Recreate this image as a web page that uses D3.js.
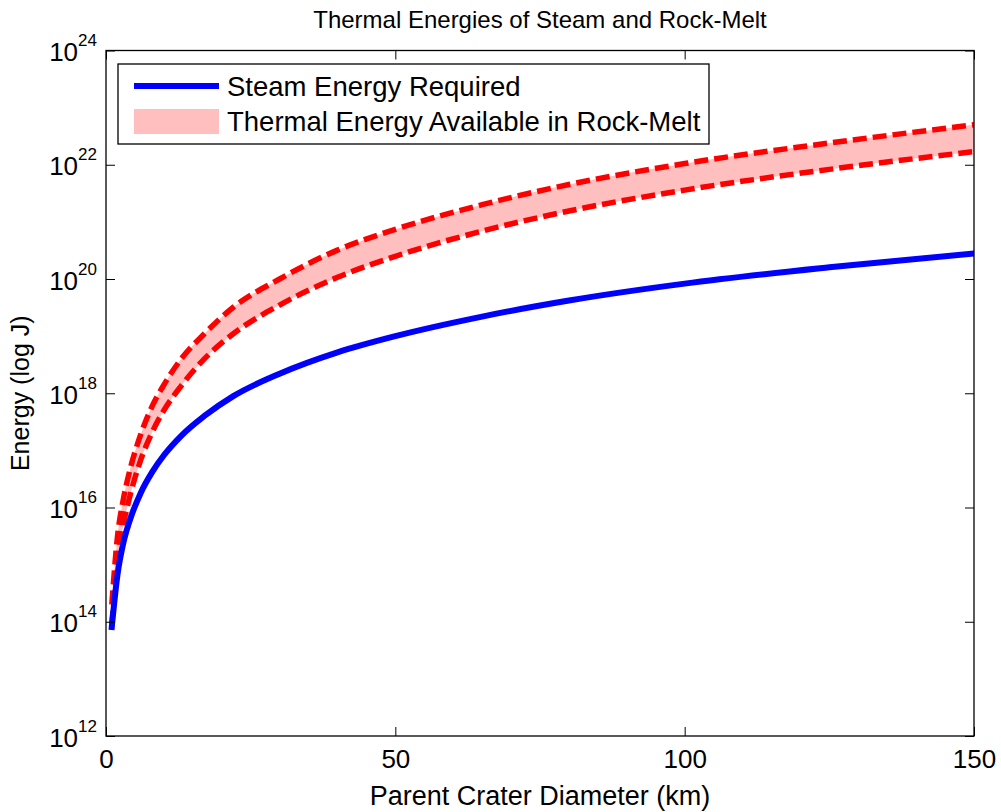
<!DOCTYPE html>
<html lang="en">
	<head>
		<meta charset="utf-8">
		<title>Thermal Energies of Steam and Rock-Melt</title>
		<script src="https://cdn.jsdelivr.net/npm/d3@7"></script>
		<style>
			body { margin: 0; background: #fff; }
			text { font-family: "Liberation Sans", Arial, sans-serif; fill: #000; }
		</style>
	</head>
	<body>
		<script>

		// crater diameter (km)
		var diameter = [1, 2, 3, 4, 6, 8, 10, 13, 17, 22, 30, 40, 50, 65, 80, 100, 125, 150];
		// steam energy required (J)
		var steam = [8.1e13, 6.8e14, 2.4e15, 5.5e15, 1.8e16, 4.2e16, 8.2e16, 1.8e17, 4.0e17, 8.9e17,
			2.2e18, 5.2e18, 1.0e19, 2.2e19, 4.2e19, 8.3e19, 1.6e20, 2.8e20];
		// rock-melt thermal energy, upper and lower bounds (J)
		var meltHigh = [2.0e14, 3.2e15, 1.4e16, 4.0e16, 1.9e17, 6.0e17, 1.4e18, 4.0e18, 1.1e19, 3.2e19,
			1.0e20, 3.2e20, 7.4e20, 2.0e21, 4.5e21, 1.05e22, 2.4e22, 5.0e22];
		var meltLow = [8.9e13, 1.1e15, 5.0e15, 1.4e16, 6.8e16, 2.1e17, 5.0e17, 1.35e18, 4.0e18, 1.1e19,
			3.5e19, 1.07e20, 2.5e20, 6.9e20, 1.55e21, 3.6e21, 8.3e21, 1.7e22];

		var xTicks = [0, 50, 100, 150];
		var yTicks = [1e12, 1e14, 1e16, 1e18, 1e20, 1e22, 1e24];
		var legendLabels = ["Steam Energy Required", "Thermal Energy Available in Rock-Melt"];

		var width = 1001, height = 812;
		var margin = {top: 50.5, right: 27, bottom: 76, left: 106};

		var svg = d3.select("body").append("svg")
			.attr("width", width)
			.attr("height", height);

		var x = d3.scaleLinear().domain([0, 150]).range([margin.left, width - margin.right]);
		var y = d3.scaleLog().domain([1e12, 1e24]).range([height - margin.bottom, margin.top]);

		var rows = diameter.map(function(d, i) {
			return {d: d, steam: steam[i], hi: meltHigh[i], lo: meltLow[i]};
		});

		svg.append("clipPath").attr("id", "plotclip")
			.append("rect")
			.attr("x", x(0)).attr("y", y(1e24))
			.attr("width", x(150) - x(0)).attr("height", y(1e12) - y(1e24));

		var plot = svg.append("g").attr("clip-path", "url(#plotclip)");

		// band between the two rock-melt bounds
		plot.append("path")
			.datum(rows)
			.attr("fill", "#ffbfbf")
			.attr("d", d3.area()
				.x(function(r) {return x(r.d);})
				.y0(function(r) {return y(r.lo);})
				.y1(function(r) {return y(r.hi);})
				.curve(d3.curveMonotoneX));

		var curveLine = function(key) {
			return d3.line()
				.x(function(r) {return x(r.d);})
				.y(function(r) {return y(r[key]);})
				.curve(d3.curveMonotoneX);
		};

		["hi", "lo"].forEach(function(k) {
			plot.append("path")
				.datum(rows)
				.attr("fill", "none")
				.attr("stroke", "#ff0000")
				.attr("stroke-width", 5.5)
				.attr("stroke-dasharray", "14,6")
				.attr("d", curveLine(k));
		});

		plot.append("path")
			.datum(rows)
			.attr("fill", "none")
			.attr("stroke", "#0000ff")
			.attr("stroke-width", 6)
			.attr("stroke-linecap", "square")
			.attr("d", curveLine("steam"));

		// axes: ticks inside, box all round
		var tickLen = 9;
		svg.append("g")
			.attr("transform", "translate(0," + y(1e12) + ")")
			.call(d3.axisBottom(x).tickValues(xTicks).tickSizeInner(-tickLen).tickSizeOuter(0).tickPadding(14))
			.call(function(g) {
				g.select(".domain").remove();
				g.selectAll("text").attr("font-size", 26).attr("dy", "0.71em");
			});

		svg.append("g")
			.attr("transform", "translate(0," + y(1e24) + ")")
			.call(d3.axisTop(x).tickValues(xTicks).tickSizeInner(-tickLen).tickSizeOuter(0).tickFormat(""))
			.call(function(g) {g.select(".domain").remove();});

		svg.append("g")
			.attr("transform", "translate(" + x(150) + ",0)")
			.call(d3.axisRight(y).tickValues(yTicks).tickSizeInner(-tickLen).tickSizeOuter(0).tickFormat(""))
			.call(function(g) {g.select(".domain").remove();});

		var yAxis = svg.append("g")
			.attr("transform", "translate(" + x(0) + ",0)")
			.call(d3.axisLeft(y).tickValues(yTicks).tickSizeInner(-tickLen).tickSizeOuter(0).tickFormat(""))
			.call(function(g) {g.select(".domain").remove();});

		// 10^n labels
		yAxis.selectAll(".tick").append("text")
			.attr("x", -9)
			.attr("y", 10)
			.attr("text-anchor", "end")
			.attr("font-size", 26)
			.text("10")
			.append("tspan")
				.attr("dy", -15)
				.attr("font-size", 17)
				.text(function(v) {return Math.round(Math.log10(v));});

		svg.selectAll(".tick line").attr("stroke", "#000");

		svg.append("rect")
			.attr("x", x(0)).attr("y", y(1e24))
			.attr("width", x(150) - x(0)).attr("height", y(1e12) - y(1e24))
			.attr("fill", "none")
			.attr("stroke", "#000")
			.attr("stroke-width", 1.3);

		// titles
		svg.append("text")
			.attr("x", (x(0) + x(150)) / 2)
			.attr("y", 28)
			.attr("text-anchor", "middle")
			.attr("font-size", 24)
			.text("Thermal Energies of Steam and Rock-Melt");

		svg.append("text")
			.attr("x", (x(0) + x(150)) / 2)
			.attr("y", 805)
			.attr("text-anchor", "middle")
			.attr("font-size", 27)
			.text("Parent Crater Diameter (km)");

		svg.append("text")
			.attr("transform", "translate(29," + y(1e18) + ") rotate(-90)")
			.attr("text-anchor", "middle")
			.attr("font-size", 25)
			.text("Energy (log J)");

		// legend
		var legend = svg.append("g").attr("transform", "translate(118,64)");
		legend.append("rect")
			.attr("width", 591).attr("height", 80)
			.attr("fill", "#fff")
			.attr("stroke", "#000")
			.attr("stroke-width", 1.3);

		legend.append("line")
			.attr("x1", 16).attr("x2", 101)
			.attr("y1", 22).attr("y2", 22)
			.attr("stroke", "#0000ff")
			.attr("stroke-width", 6);

		legend.append("rect")
			.attr("x", 16).attr("y", 45)
			.attr("width", 85).attr("height", 25)
			.attr("fill", "#ffbfbf");

		legend.selectAll(".legendText")
			.data(legendLabels)
			.enter()
			.append("text")
				.attr("class", "legendText")
				.attr("x", 109)
				.attr("y", function(d, i) {return 32 + i * 35;})
				.attr("font-size", 27.5)
				.text(function(d) {return d;});

		</script>
	</body>
</html>
